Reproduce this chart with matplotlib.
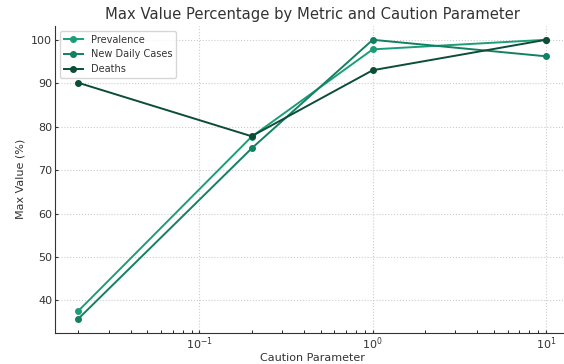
import matplotlib.pyplot as plt

caution = [0.02, 0.2, 1, 10]
prevalence = [37.6, 77.7, 97.8, 100.0]
new_daily_cases = [35.8, 75.0, 100.0, 96.2]
deaths = [90.1, 77.8, 93.0, 100.0]

series = [
    ("Prevalence", prevalence, "#1b9e77"),
    ("New Daily Cases", new_daily_cases, "#148062"),
    ("Deaths", deaths, "#0c4d37"),
]

fig = plt.figure(figsize=(5.64, 3.64), dpi=100)
ax = fig.add_axes([0.0975, 0.086, 0.912, 0.843])

for name, vals, col in series:
    ax.plot(caution, vals, marker="o", markersize=4, linewidth=1.4, color=col, label=name)

ax.set_xscale("log")
ax.set_title("Max Value Percentage by Metric and Caution Parameter", fontsize=10.6, color="#333333", pad=5)
ax.set_xlabel("Caution Parameter", fontsize=8, color="#333333", labelpad=1)
ax.set_ylabel("Max Value (%)", fontsize=8, color="#333333", labelpad=4)
ax.tick_params(labelsize=8, colors="#333333", pad=2)
ax.tick_params(which="both", direction="in", length=2.5)
ax.grid(True, which="major", linestyle=":", color="#cccccc", linewidth=0.8)
for s in ["top", "right"]:
    ax.spines[s].set_visible(False)
ax.spines["left"].set_color("#333333")
ax.spines["bottom"].set_color("#333333")
ax.legend(loc="upper left", fontsize=7, frameon=True, labelcolor="#333333")

fig.savefig("out.png", dpi=100)
